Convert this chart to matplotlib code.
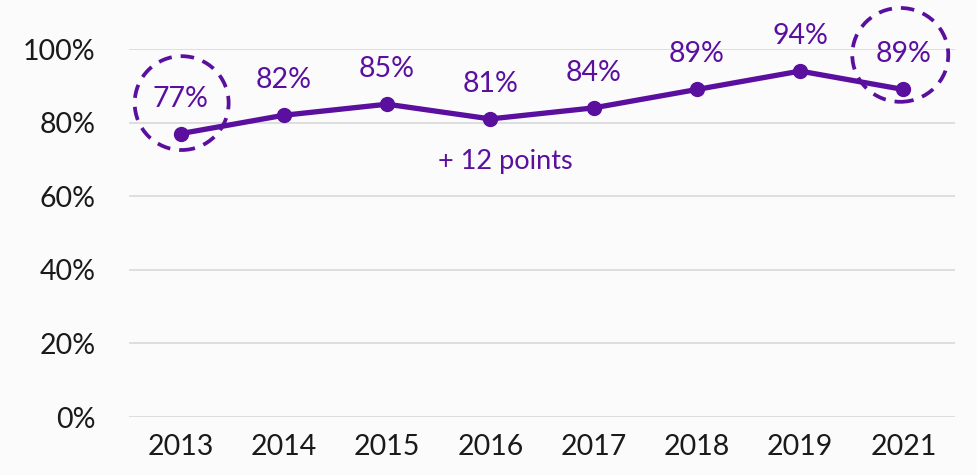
import matplotlib
matplotlib.use("Agg")
import matplotlib.pyplot as plt
from matplotlib.patches import Ellipse

years = ["2013", "2014", "2015", "2016", "2017", "2018", "2019", "2021"]
values = [77, 82, 85, 81, 84, 89, 94, 89]
yticks = [0, 20, 40, 60, 80, 100]
note = "+ 12 points"

purple = "#5a0f9e"
bg = "#fbfbfb"
plt.rcParams['font.family'] = ['Lato', 'DejaVu Sans']

fig = plt.figure(figsize=(9.77, 4.75), dpi=100, facecolor=bg)
ax = fig.add_axes([129/977, 1-417/475, 826/977, (417-49)/475], facecolor=bg)
x = list(range(len(years)))
ax.plot(x, values, color=purple, lw=3.8, marker='o', ms=10, zorder=3, clip_on=False)
for xi, v in zip(x, values):
    ax.annotate(f"{v}%", (xi, v), xytext=(0, 35), textcoords='offset pixels',
                ha='center', va='center', fontsize=20.5, color=purple)

for cx, cy, w, h in [(0.01, 85.3, 0.91, 25.5), (6.97, 98.4, 0.93, 25.5)]:
    e = Ellipse((cx, cy), w, h, fill=False, ec=purple, lw=2.7, ls=(0, (3.6, 2.4)), clip_on=False, zorder=4)
    ax.add_patch(e)

ax.text(3.14, 69.3, note, ha='center', va='center', fontsize=19.5, color=purple)

ax.set_xlim(-0.5, len(years)-0.5)
ax.set_ylim(0, 100)
ax.set_yticks(yticks)
ax.set_yticklabels([f"{t}%" for t in yticks])
ax.set_xticks(x)
ax.set_xticklabels(years)
ax.grid(axis='y', color='#d9d9d9', lw=1.2)
ax.set_axisbelow(True)
for s in ax.spines.values():
    s.set_visible(False)
ax.tick_params(length=0, labelsize=20.5, colors='#1a1a1a', pad=12)
ax.tick_params(axis='y', pad=24)
fig.savefig("out.png", dpi=100, facecolor=bg)
